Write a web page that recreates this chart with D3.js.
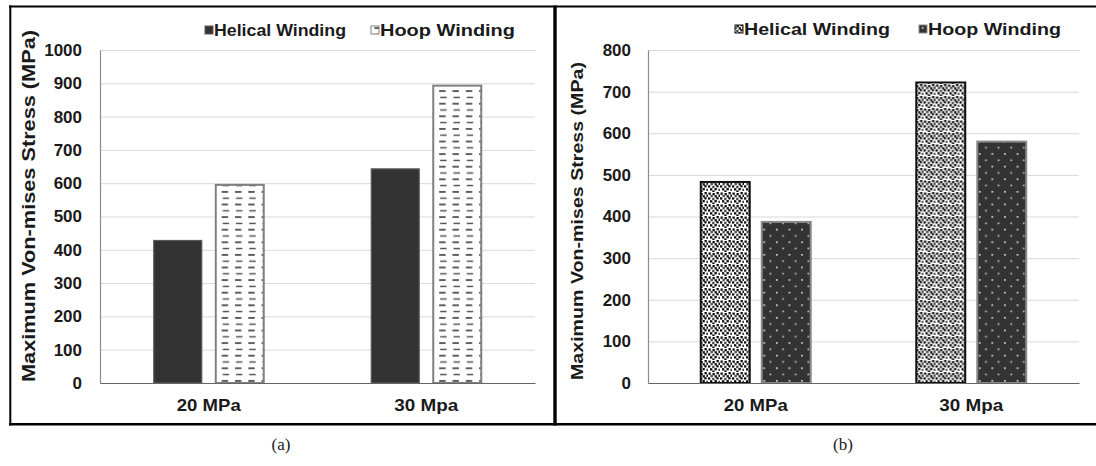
<!DOCTYPE html>
<html>
<head>
<meta charset="utf-8">
<script src="https://cdn.jsdelivr.net/npm/d3@7"></script>
<style>
  body { margin: 0; background: #fff; }
  svg { display: block; }
  text { font-family: "Liberation Sans", Arial, sans-serif; font-weight: bold; fill: #1a1a1a; }
</style>
</head>
<body>
<svg id="chart" width="1096" height="466"></svg>
<script>
"use strict";

// data
const categories = ['20 MPa', '30 Mpa'];
const series = ['Helical Winding', 'Hoop Winding'];
const helicalA = [428, 643];
const hoopA = [595, 893];
const helicalB = [483, 722];
const hoopB = [387, 580];
const ticksA = [0, 100, 200, 300, 400, 500, 600, 700, 800, 900, 1000];
const ticksB = [0, 100, 200, 300, 400, 500, 600, 700, 800];
const yTitle = 'Maximum Von-mises Stress (MPa)';

const svg = d3.select('#chart');
const defs = svg.append('defs');

// --- fill patterns ---
let p = defs.append('pattern').attr('id', 'dashes').attr('patternUnits', 'userSpaceOnUse')
  .attr('width', 13.3).attr('height', 12.6);
p.append('rect').attr('width', 13.3).attr('height', 12.6).attr('fill', '#fff');
p.append('rect').attr('x', 2).attr('y', 2.2).attr('width', 6.4).attr('height', 1.4).attr('fill', '#1e1e1e');
p.append('rect').attr('x', 3).attr('y', 8.5).attr('width', 6.4).attr('height', 1.4).attr('fill', '#4a4a4a');

p = defs.append('pattern').attr('id', 'speckle').attr('patternUnits', 'userSpaceOnUse')
  .attr('width', 12).attr('height', 12);
p.append('rect').attr('width', 12).attr('height', 12).attr('fill', '#fff');
[[0.5, 0.5], [4.5, 1], [8.5, 0], [2.5, 2.9], [6.6, 3.2], [10.4, 2.6], [0, 5.3], [4.2, 5.8],
 [8.3, 5.1], [2, 8.2], [6.5, 8], [10.3, 8.7], [4.3, 10.4]].forEach(([x, y], i) => {
  p.append('rect').attr('x', x).attr('y', y).attr('width', 2.3).attr('height', 2.3)
    .attr('fill', i % 4 == 3 ? '#444' : '#0d0d0d');
});

p = defs.append('pattern').attr('id', 'darkdots').attr('patternUnits', 'userSpaceOnUse')
  .attr('width', 12.6).attr('height', 12.6);
p.append('rect').attr('width', 12.6).attr('height', 12.6).attr('fill', '#333');
p.append('rect').attr('x', 2).attr('y', 2).attr('width', 1.6).attr('height', 1.6).attr('fill', '#e8e8e8');
p.append('rect').attr('x', 8.3).attr('y', 8.3).attr('width', 1.6).attr('height', 1.6).attr('fill', '#cfcfcf');

// --- panel setup ---
const panels = [
  {
    helical: helicalA, hoop: hoopA, ticks: ticksA, max: 1000,
    x: [100, 535], pad: [0.226, 0.867], tickPad: 18, titleX: 35, titleMid: 206, titleLen: 352, titleSize: 18,
    legendY: 30, legendX: [205, 371], legendLen: [132, 135], caption: '(a)', captionX: 281,
    styles: [
      {fill: '#333', stroke: '#5a5a5a', sw: 1.2},
      {fill: 'url(#dashes)', stroke: '#808080', sw: 2}
    ]
  },
  {
    helical: helicalB, hoop: hoopB, ticks: ticksB, max: 800,
    x: [648, 1079], pad: [0.197, 0.865], tickPad: 17, titleX: 583, titleMid: 221, titleLen: 318, titleSize: 17,
    legendY: 29, legendX: [735, 919], legendLen: [146, 133], caption: '(b)', captionX: 843,
    styles: [
      {fill: 'url(#speckle)', stroke: '#111', sw: 2},
      {fill: 'url(#darkdots)', stroke: '#8a8a8a', sw: 2}
    ]
  }
];

const yRange = [383, 50];

panels.forEach(cfg => {
  const g = svg.append('g');
  const x0 = d3.scaleBand().domain(categories).range(cfg.x);
  const x1 = d3.scaleBand().domain(series).range([0, x0.bandwidth()])
    .paddingInner(cfg.pad[0]).paddingOuter(cfg.pad[1]);
  const y = d3.scaleLinear().domain([0, cfg.max]).range(yRange);
  const w = cfg.x[1] - cfg.x[0];

  // gridlines
  const grid = g.append('g').attr('transform', `translate(${cfg.x[0]},0)`)
    .call(d3.axisLeft(y).tickValues(cfg.ticks.slice(1)).tickSize(-w).tickFormat(''));
  grid.select('.domain').remove();
  grid.selectAll('.tick line').attr('stroke', '#d9d9d9').attr('stroke-width', 1);

  // bars
  const rows = categories.map((c, i) => ({cat: c, vals: [cfg.helical[i], cfg.hoop[i]]}));
  g.selectAll('g.cat').data(rows).join('g')
    .attr('transform', d => `translate(${x0(d.cat)},0)`)
    .selectAll('rect').data(d => d.vals.map((v, j) => ({s: series[j], v, j}))).join('rect')
    .attr('x', d => x1(d.s))
    .attr('y', d => y(d.v))
    .attr('width', x1.bandwidth())
    .attr('height', d => y(0) - y(d.v))
    .attr('fill', d => cfg.styles[d.j].fill)
    .attr('stroke', d => cfg.styles[d.j].stroke)
    .attr('stroke-width', d => cfg.styles[d.j].sw);

  // y axis
  const ya = g.append('g').attr('transform', `translate(${cfg.x[0]},0)`)
    .call(d3.axisLeft(y).tickValues(cfg.ticks).tickFormat(d3.format('d')).tickSize(0).tickPadding(cfg.tickPad));
  ya.select('.domain').attr('stroke', '#8c8c8c').attr('stroke-width', 1.2);
  ya.selectAll('text').attr('font-size', 17).attr('font-family', null).attr('fill', '#1a1a1a');

  // x axis
  const xa = g.append('g').attr('transform', `translate(0,${y(0)})`)
    .call(d3.axisBottom(x0).tickSize(0).tickPadding(16));
  xa.select('.domain').attr('stroke', '#666').attr('stroke-width', 1.2);
  xa.selectAll('text').attr('font-size', 17).attr('font-family', null).attr('fill', '#1a1a1a')
    .attr('textLength', 64).attr('lengthAdjust', 'spacingAndGlyphs');

  // y title
  g.append('text')
    .attr('transform', `translate(${cfg.titleX},${cfg.titleMid}) rotate(-90)`)
    .attr('text-anchor', 'middle')
    .attr('font-size', cfg.titleSize)
    .attr('textLength', cfg.titleLen).attr('lengthAdjust', 'spacingAndGlyphs')
    .text(yTitle);

  // legend
  series.forEach((s, i) => {
    const lx = cfg.legendX[i], ly = cfg.legendY;
    const st = cfg.styles[i];
    g.append('rect').attr('x', lx).attr('y', ly - 4).attr('width', 8).attr('height', 8)
      .attr('fill', st.fill).attr('stroke', st.stroke).attr('stroke-width', 1);
    g.append('text').attr('x', lx + 9).attr('y', ly + 6)
      .attr('font-size', 17)
      .attr('textLength', cfg.legendLen[i]).attr('lengthAdjust', 'spacingAndGlyphs')
      .text(s);
  });

  // caption
  svg.append('text').attr('x', cfg.captionX).attr('y', 450)
    .attr('text-anchor', 'middle')
    .style('font-family', '"Liberation Serif", "Times New Roman", serif')
    .style('font-weight', 'normal')
    .attr('font-size', 17).attr('fill', '#222')
    .text(cfg.caption);
});

// frame around the two panels
const frame = svg.append('g').attr('stroke', '#000').attr('fill', 'none');
frame.append('line').attr('x1', 9).attr('x2', 1096).attr('y1', 6.5).attr('y2', 6.5).attr('stroke-width', 2);
frame.append('line').attr('x1', 9).attr('x2', 1096).attr('y1', 424.3).attr('y2', 424.3).attr('stroke-width', 2.4);
frame.append('line').attr('x1', 10.3).attr('x2', 10.3).attr('y1', 5.5).attr('y2', 425.5).attr('stroke-width', 2);
frame.append('line').attr('x1', 555).attr('x2', 555).attr('y1', 5.5).attr('y2', 425.5).attr('stroke-width', 3.4);
</script>
</body>
</html>
